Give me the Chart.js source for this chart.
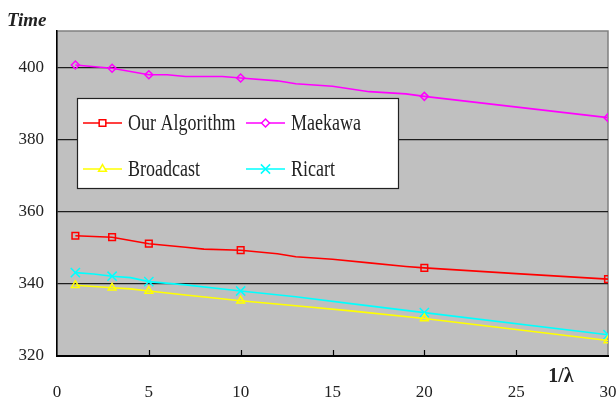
<!DOCTYPE html>
<html>
<head>
<meta charset="utf-8">
<script src="https://cdn.jsdelivr.net/npm/chart.js@4"></script>
<style>
  html, body { margin: 0; padding: 0; background: #fff; }
  #wrap { width: 616px; height: 405px; }
</style>
</head>
<body>
<div id="wrap"><canvas id="timeChart" width="616" height="405"></canvas></div>
<script>
// x = 1/lambda, y = time
const markerX = [1, 3, 5, 10, 20, 30];

const ourX = [1, 2, 3, 5, 6, 7, 8, 10, 12, 13, 15, 17, 19, 20, 25, 30];
const ourY = [353.3, 353.1, 352.9, 351.1, 350.6, 350.1, 349.6, 349.3, 348.3, 347.5, 346.8, 345.8, 344.8, 344.4, 342.8, 341.3];

const maekawaX = [1, 3, 5, 6, 7, 9, 10, 12, 13, 15, 17, 19, 20, 30];
const maekawaY = [400.6, 399.7, 397.9, 397.9, 397.4, 397.4, 397.0, 396.2, 395.4, 394.7, 393.2, 392.6, 391.9, 386.0];

const broadcastX = [1, 3, 4, 5, 7, 10, 13, 16, 20, 30];
const broadcastY = [339.6, 338.9, 338.6, 338.0, 336.9, 335.3, 333.9, 332.5, 330.4, 324.3];

const ricartX = [1, 2, 3, 4, 5, 7, 10, 13, 16, 20, 30];
const ricartY = [343.1, 342.7, 342.1, 341.7, 340.6, 339.7, 338.0, 336.4, 334.5, 332.0, 325.9];

const xTicks = [0, 5, 10, 15, 20, 25, 30];
const yTicks = [320, 340, 360, 380, 400];

const toPoints = (xs, ys) => xs.map((x, i) => ({ x: x, y: ys[i] }));

function series(label, xs, ys, color, style, radius) {
    return {
        label: label,
        data: toPoints(xs, ys),
        borderColor: color,
        backgroundColor: 'rgba(0,0,0,0)',
        pointBorderColor: color,
        pointBackgroundColor: 'rgba(0,0,0,0)',
        pointStyle: style,
        pointBorderWidth: 1.5,
        borderWidth: 1.6,
        tension: 0,
        pointRadius: c => markerX.includes(c.raw.x) ? radius : 0,
        pointHoverRadius: 0,
        markerRadius: radius
    };
}

// grey plot area + border
const plotBack = {
    id: 'plotBack',
    beforeDraw(chart) {
        const a = chart.chartArea, c = chart.ctx;
        c.save();
        c.fillStyle = '#c0c0c0';
        c.fillRect(a.left, a.top, a.right - a.left, a.bottom - a.top);
        c.strokeStyle = '#808080';
        c.lineWidth = 1.5;
        c.strokeRect(a.left, a.top, a.right - a.left, a.bottom - a.top);
        c.restore();
    },
    afterDatasetsDraw(chart) {
        // small inward tick marks on x axis
        const a = chart.chartArea, c = chart.ctx, xs = chart.scales.x;
        c.save();
        c.strokeStyle = '#000';
        c.lineWidth = 1.2;
        xs.ticks.forEach(t => {
            if (t.value === 0 || t.value === 30) return;
            const px = Math.round(xs.getPixelForValue(t.value)) + 0.5;
            c.beginPath();
            c.moveTo(px, a.bottom);
            c.lineTo(px, a.bottom - 6);
            c.stroke();
        });
        c.restore();
    }
};

// legend box inside the plot
const boxLegend = {
    id: 'boxLegend',
    afterDraw(chart) {
        const c = chart.ctx;
        const cols = [83, 246], rows = [123, 169];
        c.save();
        c.fillStyle = '#fff';
        c.fillRect(77, 98, 321, 90);
        c.strokeStyle = '#222';
        c.lineWidth = 1.2;
        c.strokeRect(77.5, 98.5, 321, 90);
        chart.data.datasets.forEach((ds, i) => {
            const x0 = cols[i % 2], y0 = rows[Math.floor(i / 2)];
            c.strokeStyle = ds.borderColor;
            c.lineWidth = 1.6;
            c.beginPath();
            c.moveTo(x0, y0);
            c.lineTo(x0 + 39, y0);
            c.stroke();
            c.lineWidth = 1.5;
            c.fillStyle = '#fff';
            Chart.helpers.drawPoint(c, {
                pointStyle: ds.pointStyle,
                radius: ds.markerRadius,
                borderWidth: 1.5
            }, x0 + 19.5, y0);
            c.fillStyle = '#222';
            c.font = '18px "Liberation Serif"';
            c.textBaseline = 'middle';
            c.textAlign = 'left';
            c.save();
            c.translate(x0 + 45, y0 + 1);
            c.scale(1, 1.3);
            c.fillText(ds.label, 0, 0);
            c.restore();
        });
        c.restore();
    }
};

// axis captions
const captions = {
    id: 'captions',
    afterDraw(chart) {
        const c = chart.ctx;
        c.save();
        c.fillStyle = '#222';
        c.textBaseline = 'middle';
        c.font = 'italic bold 19px "Liberation Serif"';
        c.textAlign = 'left';
        c.fillText('Time', 7, 21);
        c.font = 'bold 20px "Liberation Serif"';
        c.textAlign = 'center';
        c.fillText('1/λ', 561, 377);
        c.restore();
    }
};

const ctx = document.getElementById('timeChart').getContext('2d');
const chart = new Chart(ctx, {
    type: 'line',
    data: {
        datasets: [
            series('Our Algorithm', ourX, ourY, '#ff0000', 'rect', 4.7),
            series('Maekawa', maekawaX, maekawaY, '#ff00ff', 'rectRot', 4),
            series('Broadcast', broadcastX, broadcastY, '#ffff00', 'triangle', 4.5),
            series('Ricart', ricartX, ricartY, '#00ffff', 'crossRot', 6.5)
        ]
    },
    options: {
        responsive: false,
        animation: false,
        events: [],
        layout: { padding: { top: 31, right: 8, left: 0, bottom: 0 } },
        plugins: {
            legend: { display: false },
            tooltip: { enabled: false },
            title: { display: false }
        },
        scales: {
            x: {
                type: 'linear',
                min: 0,
                max: 30,
                afterBuildTicks: s => { s.ticks = xTicks.map(v => ({ value: v })); },
                afterFit: s => { s.height = 49; s.paddingLeft = 0; s.paddingRight = 0; },
                grid: { display: false, drawTicks: false },
                border: { display: true, color: '#000', width: 2 },
                ticks: {
                    color: '#222',
                    font: { family: 'Liberation Serif', size: 17 },
                    padding: 26,
                    maxRotation: 0,
                    autoSkip: false
                }
            },
            y: {
                min: 320,
                max: 410,
                afterBuildTicks: s => { s.ticks = yTicks.map(v => ({ value: v })); },
                afterFit: s => { s.width = 57; s.paddingTop = 0; s.paddingBottom = 0; },
                grid: {
                    drawTicks: false,
                    color: c => c.tick && c.tick.value === 320 ? 'rgba(0,0,0,0)' : '#1e1e1e',
                    lineWidth: 1.2
                },
                border: { display: true, color: '#000', width: 1.5 },
                ticks: {
                    color: '#222',
                    font: { family: 'Liberation Serif', size: 17 },
                    padding: 13
                }
            }
        }
    },
    plugins: [plotBack, boxLegend, captions]
});
</script>
</body>
</html>
